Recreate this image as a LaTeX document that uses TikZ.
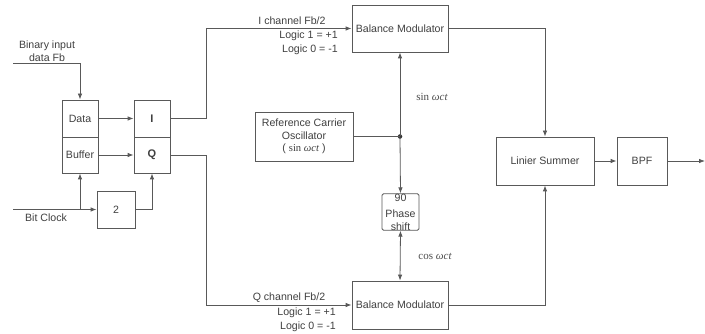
\documentclass[tikz,border=0pt]{standalone}
\usepackage{fontspec}
\setmainfont{Liberation Sans}
\newfontfamily\serifm{Liberation Serif}
\usetikzlibrary{positioning,calc,arrows.meta}
\tikzset{
  blk/.style      = {draw=black!65, fill=white, line width=0.8pt, inner sep=0pt, align=center, font=\fontsize{10.6}{12.5}\selectfont, text=black!75},
  blkb/.style     = {blk, font=\fontsize{11}{13}\selectfont\bfseries},
  lbl/.style      = {inner sep=0pt, align=center, font=\fontsize{10.6}{13.5}\selectfont, text=black!75},
  lblr/.style     = {lbl, align=right, anchor=east},
  trig/.style     = {inner sep=0pt, font=\fontsize{11}{13}\serifm, text=black!70},
  wire/.style     = {draw=black!65, line width=0.8pt},
  arrowto/.style  = {wire, -{Latex[length=6pt,width=4.5pt]}},
  arrowboth/.style= {wire, {Latex[length=6pt,width=4.5pt]}-{Latex[length=6pt,width=4.5pt]}},
  junc/.style     = {circle, fill=black!80, inner sep=1.6pt},
}

\begin{document}
\begin{tikzpicture}[x=1pt,y=-1pt]
  \useasboundingbox[fill=white] (0,0) rectangle (705,334);

  % input side
  \node[blk, minimum width=36pt, minimum height=37pt] (data)   at (80,118.5) {Data};
  \node[blk, minimum width=36pt, minimum height=36pt] (buffer) at (80,155)   {Buffer};
  \node[blkb, minimum width=36pt, minimum height=37pt] (ich)   at (152,118.5) {I};
  \node[blkb, minimum width=36pt, minimum height=36pt] (qch)   at (152,155)   {Q};
  \node[blk, minimum width=38pt, minimum height=37pt] (div)    at (116,209.5) {2};

  \node[lbl] (binlbl) at (47,51) {Binary input\\data Fb};
  \node[lbl] (clklbl) at (46,218) {Bit Clock};
  \coordinate (binin) at (13,63);
  \coordinate (clk)   at (13,209.5);
  \coordinate (tap)   at (80,209.5);

  \draw[arrowto] (binin) -| (data.north);
  \draw[arrowto] (data.east) -- (ich.west);
  \draw[arrowto] (buffer.east) -- (qch.west);
  \draw[arrowto] (clk) -- (div.west);
  \draw[arrowto] (tap) -- (buffer.south);
  \draw[arrowto] (div.east) -| (qch.south);

  % carrier and modulators
  \node[blk, minimum width=96pt, minimum height=47pt] (bmtop) at (400,28.5) {Balance Modulator};
  \node[blk, minimum width=96pt, minimum height=48pt] (bmbot) at (400,305)  {Balance Modulator};
  \node[blk, minimum width=98pt, minimum height=49pt] (osc)   at (304,136.5)
    {Reference Carrier\\Oscillator\\( {\serifm sin \itshape ωct} )};
  \node[blk, minimum width=37pt, minimum height=36pt, rounded corners=1.5pt] (phase) at (400.5,212)
    {\raisebox{7pt}{90}\\[-3pt]Phase\\shift};
  \node[junc] (dot) at (400,136.5) {};

  \node[trig] (sinlbl) at (432,97)  {sin \itshape ωct};
  \node[trig] (coslbl) at (435,256) {cos \itshape ωct};

  \node[lbl]  (ilbl)  at (292,21) {I channel Fb/2};
  \node[lblr] (ilog)  at (338,43) {Logic 1 = +1\\Logic 0 = -1};
  \node[lbl]  (qlbl)  at (289,298) {Q channel Fb/2};
  \node[lblr] (qlog)  at (336,320) {Logic 1 = +1\\Logic 0 = -1};

  \draw[arrowto] (ich.east) -- ++(36,0) |- (bmtop.west);
  \draw[arrowto] (qch.east) -- ++(36,0) |- (bmbot.west);
  \draw[wire] (osc.east) -- (dot.center);
  \draw[arrowto] (dot.center) -- (bmtop.south);
  \draw[arrowto] (dot.center) -- (phase.north);
  \draw[arrowboth] (phase.south) -- (bmbot.north);

  % output side
  \node[blk, minimum width=98pt, minimum height=48pt] (sum) at (545,161) {Linier Summer};
  \node[blk, minimum width=50pt, minimum height=48pt] (bpf) at (642,161) {BPF};
  \coordinate (out) at (705,161);

  \draw[arrowto] (bmtop.east) -| (sum.north);
  \draw[arrowto] (bmbot.east) -| (sum.south);
  \draw[arrowto] (sum.east) -- (bpf.west);
  \draw[arrowto] (bpf.east) -- (out);
\end{tikzpicture}
\end{document}
